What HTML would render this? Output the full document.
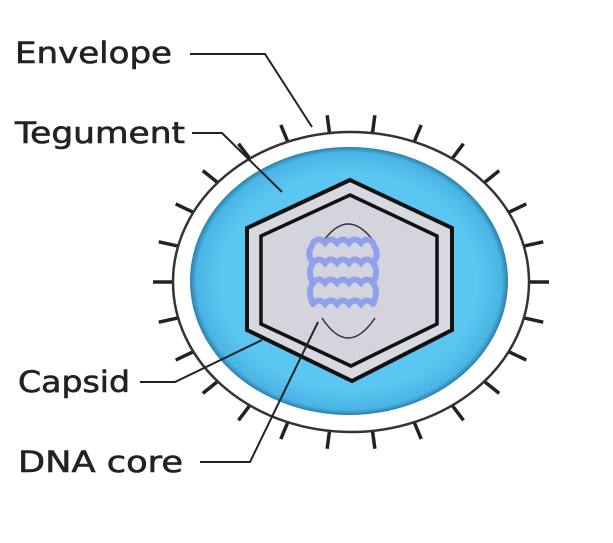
<!DOCTYPE html>
<html><head><meta charset="utf-8"><style>
html,body{margin:0;padding:0;background:#fff;}
svg{display:block;}
text{font-family:"DejaVu Sans","Liberation Sans",sans-serif;fill:#222;stroke:#222;stroke-width:0.6;}
</style></head><body>
<svg id="s" width="613" height="543" viewBox="0 0 613 543">
<defs>
<radialGradient id="g" cx="0.5" cy="0.5" r="0.5">
<stop offset="0.8" stop-color="#5cc6f2"/><stop offset="0.96" stop-color="#4ab5e5"/><stop offset="1" stop-color="#2a7faa"/>
</radialGradient>
</defs>
<g id="spikes"></g>
<ellipse cx="351" cy="282" rx="178" ry="150" fill="#fff" stroke="#333" stroke-width="2.5"/>
<ellipse cx="349" cy="281" rx="159" ry="134" fill="url(#g)"/>
<polygon points="350,180 452,228 452,330 352,381 247,330 247,228" fill="#d8d8e0" stroke="#111" stroke-width="4"/>
<polygon points="350,195 437,236 437,324 351,366 261,324 261,236" fill="#d4d4de" stroke="#111" stroke-width="3.5"/>
<g fill="none">
<path d="M322,243 Q348,205 375,243" stroke="#333" stroke-width="1.5"/>
<path d="M322,318 Q348,358 375,318" stroke="#333" stroke-width="1.5"/>
<g stroke="#90a0ea" stroke-width="6" stroke-linecap="round">
<path d="M313,243 q6,-7 12,0 q6,-7 12,0 q6,-7 12,0 q6,-7 12,0 q6,-7 12,0"/>
<path d="M313,263 q6,-7 12,0 q6,-7 12,0 q6,-7 12,0 q6,-7 12,0 q6,-7 12,0"/>
<path d="M313,283 q6,-7 12,0 q6,-7 12,0 q6,-7 12,0 q6,-7 12,0 q6,-7 12,0"/>
<path d="M313,304 q6,-7 12,0 q6,-7 12,0 q6,-7 12,0 q6,-7 12,0 q6,-7 12,0"/>
<path d="M312,246 q-6,8 1,17 q-6,8 0,20 q-6,8 0,21"/>
<path d="M374,246 q6,8 -1,17 q6,8 0,20 q6,8 0,21"/>
</g>
</g>
<g stroke="#222" stroke-width="2" fill="none">
<polyline points="190,54 265,54 312,127"/>
<polyline points="192,133 222,133 282,192"/>
<polyline points="140,382 175,382 262,340"/>
<polyline points="200,462 250,462 318,322"/>
</g>
<text x="15" y="63" font-size="29" textLength="157" lengthAdjust="spacingAndGlyphs">Envelope</text>
<text x="15" y="143" font-size="29" textLength="170" lengthAdjust="spacingAndGlyphs">Tegument</text>
<text x="18" y="392" font-size="29" textLength="112" lengthAdjust="spacingAndGlyphs">Capsid</text>
<text x="18" y="472" font-size="29" textLength="165" lengthAdjust="spacingAndGlyphs">DNA core</text>
</svg>
<script>
const g=document.getElementById('spikes');
for(let i=0;i<26;i++){
  const a=i*2*Math.PI/26;
  const c=Math.cos(a), s=Math.sin(a);
  const l=document.createElementNS('http://www.w3.org/2000/svg','line');
  l.setAttribute('x1',351+176*c);l.setAttribute('y1',282+148*s);
  l.setAttribute('x2',351+198*c);l.setAttribute('y2',282+168*s);
  l.setAttribute('stroke','#222');l.setAttribute('stroke-width','3.5');
  
  
  g.appendChild(l);
}
</script>
</body></html>
